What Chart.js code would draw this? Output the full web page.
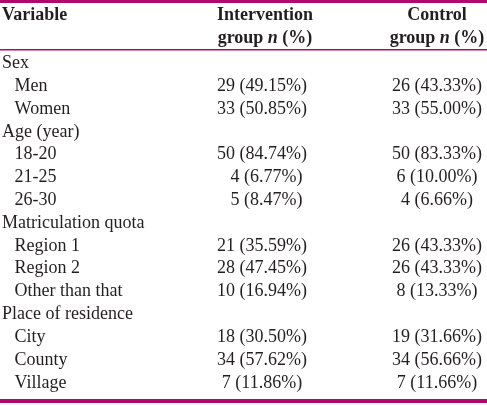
<!DOCTYPE html>
<html>
<head>
<meta charset="utf-8">
<script src="https://cdn.jsdelivr.net/npm/chart.js@4/dist/chart.umd.min.js"></script>
<style>
html,body{margin:0;padding:0;background:#fff;}
#wrap{width:487px;height:405px;position:relative;}
</style>
</head>
<body>
<div id="wrap"><canvas id="c"></canvas></div>
<script>
// ---- data ----
const columns = ['Intervention', 'Control'];
const groups = ['Sex', 'Age (year)', 'Matriculation quota', 'Place of residence'];
const subcategories = [
  ['Men', 'Women'],
  ['18-20', '21-25', '26-30'],
  ['Region 1', 'Region 2', 'Other than that'],
  ['City', 'County', 'Village']
];
const interventionN   = [29, 33, 50, 4, 5, 21, 28, 10, 18, 34, 7];
const interventionPct = [49.15, 50.85, 84.74, 6.77, 8.47, 35.59, 47.45, 16.94, 30.50, 57.62, 11.86];
const controlN        = [26, 33, 50, 6, 4, 26, 26, 8, 19, 34, 7];
const controlPct      = [43.33, 55.00, 83.33, 10.00, 6.66, 43.33, 43.33, 13.33, 31.66, 56.66, 11.66];

// ---- build rows ----
const INDENT = '  \u2009';
const rowLabels = [];
const subRowLabels = [];
groups.forEach((g, gi) => {
  rowLabels.push(g);
  subcategories[gi].forEach(s => { rowLabels.push(INDENT + s); subRowLabels.push(INDENT + s); });
});

const FONT = "'Liberation Serif', 'Times New Roman', serif";
const FS = 18;
const TEXT = '#231f20';
const RULE = '#b0086e';

function cellText(n, p, col) {
  const s = n + ' (' + p.toFixed(2) + '%)';
  return (col === 0 && p < 10) ? '\u2007' + s : s;
}

const datasets = [
  { label: columns[0], n: interventionN, pct: interventionPct,
    data: subRowLabels.map(r => ({ x: columns[0], y: r })) },
  { label: columns[1], n: controlN, pct: controlPct,
    data: subRowLabels.map(r => ({ x: columns[1], y: r })) }
];

const tablePlugin = {
  id: 'tablePlugin',
  beforeDraw(chart) {
    const ctx = chart.ctx;
    ctx.save();
    ctx.fillStyle = '#fff';
    ctx.fillRect(0, 0, chart.width, chart.height);
    ctx.restore();
  },
  afterDatasetsDraw(chart) {
    const ctx = chart.ctx;
    const area = chart.chartArea;
    const xs = chart.scales.x;
    ctx.save();
    ctx.fillStyle = TEXT;
    ctx.textBaseline = 'middle';
    ctx.textAlign = 'center';
    ctx.font = FS + 'px ' + FONT;
    chart.data.datasets.forEach((ds, di) => {
      const meta = chart.getDatasetMeta(di);
      meta.data.forEach((el, i) => {
        ctx.fillText(cellText(ds.n[i], ds.pct[i], di), el.x, el.y);
      });
    });
    // header
    const y1 = area.top - 37, y2 = area.top - 14;
    const bold = 'bold ' + FS + 'px ' + FONT;
    const boldItal = 'italic bold ' + FS + 'px ' + FONT;
    ctx.font = bold;
    ctx.textAlign = 'left';
    ctx.fillText('Variable', chart.scales.y.left, y1);
    columns.forEach((c, i) => {
      const x = xs.getPixelForValue(i) + (i === 0 ? 3 : 0);
      ctx.font = bold;
      ctx.textAlign = 'center';
      ctx.fillText(c, x, y1);
      const parts = [['group ', bold], ['n', boldItal], [' (%)', bold]];
      let w = 0;
      parts.forEach(p => { ctx.font = p[1]; w += ctx.measureText(p[0]).width; });
      let cx = x - w / 2;
      ctx.textAlign = 'left';
      parts.forEach(p => { ctx.font = p[1]; ctx.fillText(p[0], cx, y2); cx += ctx.measureText(p[0]).width; });
    });
    // rules
    ctx.fillStyle = RULE;
    ctx.fillRect(0, 0, chart.width, 3);
    ctx.fillRect(0, area.top - 3, chart.width, 1.5);
    ctx.fillRect(0, chart.height - 6, chart.width, 4);
    ctx.restore();
  }
};

new Chart(document.getElementById('c'), {
  type: 'scatter',
  data: { datasets },
  options: {
    responsive: true,
    maintainAspectRatio: false,
    animation: false,
    events: [],
    layout: { padding: { left: 2, top: 52, right: 50, bottom: 7 } },
    elements: { point: { radius: 0, hoverRadius: 0 } },
    plugins: { legend: { display: false }, tooltip: { enabled: false }, title: { display: false } },
    scales: {
      x: {
        type: 'category', labels: columns, offset: false, display: false
      },
      y: {
        type: 'category', labels: rowLabels, offset: true, reverse: false,
        afterFit(scale) { scale.width = 260; },
        grid: { display: false, drawTicks: false },
        border: { display: false },
        ticks: {
          autoSkip: false, padding: 0, crossAlign: 'far', color: TEXT,
          font: { family: FONT, size: FS }
        }
      }
    }
  },
  plugins: [tablePlugin]
});
</script>
</body>
</html>
